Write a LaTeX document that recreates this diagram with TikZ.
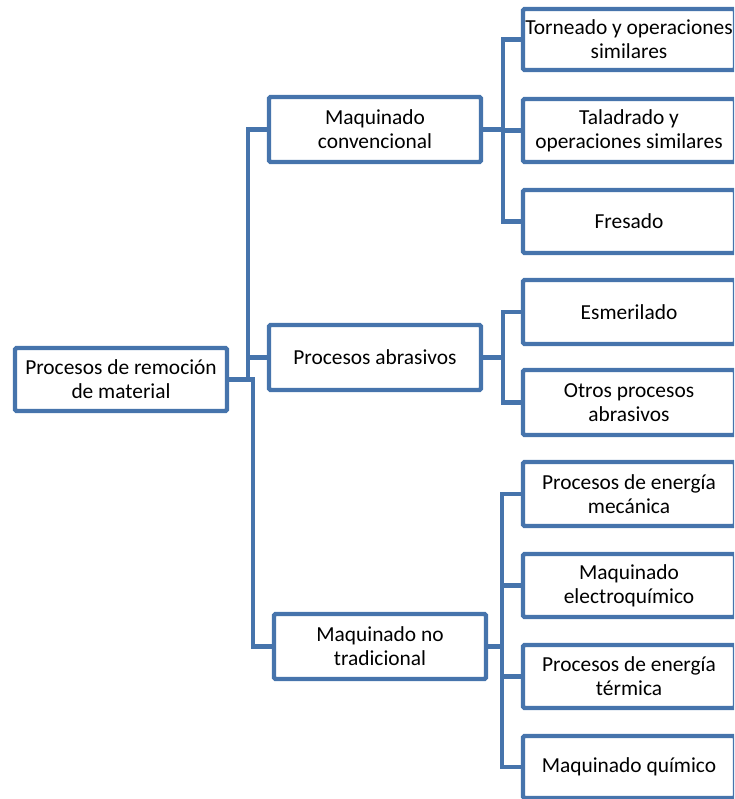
\documentclass[tikz,border=0pt]{standalone}
\usepackage{fontspec}
\setmainfont{Carlito}
\definecolor{smblue}{RGB}{70,116,172}
\begin{document}
\begin{tikzpicture}[x=1pt,y=-1pt,
  box/.style={draw=smblue, line width=4.4pt, rounded corners=1.5pt, fill=white,
    minimum width=212pt, minimum height=63pt, inner sep=0pt, outer sep=0pt,
    align=center, font=\fontsize{21.4}{24}\selectfont, text=black},
  conn/.style={draw=smblue, line width=4.4pt, line join=miter}]
\useasboundingbox (0,0) rectangle (734,799);
\begin{scope}
\clip (0,0) rectangle (734,799);
\node[box, minimum height=63pt] (root) at (121,379.5) {Procesos de remoción\\de material};
\node[box, minimum height=65pt] (mc) at (375,129.5) {Maquinado\\convencional};
\node[box, minimum height=65pt] (pa) at (375,357.5) {Procesos abrasivos};
\node[box, minimum height=65pt] (mnt) at (380,646.5) {Maquinado no\\tradicional};
\node[box, minimum height=61pt] (t1) at (629,39.5) {Torneado y operaciones\\similares};
\node[box] (t2) at (629,130.5) {Taladrado y\\operaciones similares};
\node[box] (t3) at (629,221.5) {Fresado};
\node[box, minimum height=64pt] (a1) at (629,312) {Esmerilado};
\node[box, minimum height=65pt] (a2) at (629,402.5) {Otros procesos\\abrasivos};
\node[box, minimum height=64pt] (n1) at (629,494) {Procesos de energía\\mecánica};
\node[box] (n2) at (629,585.5) {Maquinado\\electroquímico};
\node[box] (n3) at (629,676.5) {Procesos de energía\\térmica};
\node[box, minimum height=62pt] (n4) at (629,767) {Maquinado químico};
\path[conn] (root.east) -- ++(21,0) |- (mc.west);
\path[conn] (root.east) -- ++(21,0) |- (pa.west);
\path[conn] (root.east) -- ++(26,0) |- (mnt.west);
\path[conn] (mc.east) -- ++(22,0) |- (t1.west);
\path[conn] (mc.east) -- ++(22,0) |- (t2.west);
\path[conn] (mc.east) -- ++(22,0) |- (t3.west);
\path[conn] (pa.east) -- ++(22,0) |- (a1.west);
\path[conn] (pa.east) -- ++(22,0) |- (a2.west);
\path[conn] (mnt.east) -- ++(16,0) |- (n1.west);
\path[conn] (mnt.east) -- ++(16,0) |- (n2.west);
\path[conn] (mnt.east) -- ++(16,0) |- (n3.west);
\path[conn] (mnt.east) -- ++(16,0) |- (n4.west);
\end{scope}
\end{tikzpicture}
\end{document}
